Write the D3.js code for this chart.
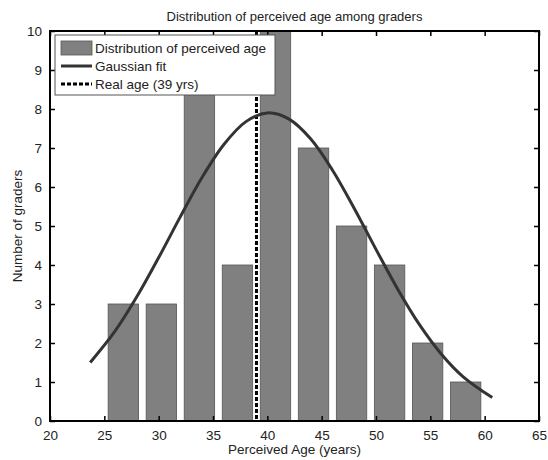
<!DOCTYPE html>
<html>
<head>
<meta charset="utf-8">
<script src="https://cdn.jsdelivr.net/npm/d3@7"></script>
<style>
body { margin: 0; background: #fff; }
text { font-family: "Liberation Sans", Arial, sans-serif; fill: #222; }
</style>
</head>
<body>
<div id="chart"></div>
<script>
// histogram bins (centres, years) and counts
var binCenters = [26.75, 30.25, 33.75, 37.25, 40.75, 44.25, 47.75, 51.25, 54.75, 58.25];
var counts = [3, 3, 9, 4, 10, 7, 5, 4, 2, 1];
var binWidth = 2.8;

// gaussian fit
var fitX = [23.7, 26, 28, 30, 32, 34, 36, 38, 40, 42, 44, 46, 48, 50, 52, 54, 56, 58, 60.7];
var fitY = [1.5, 2.31, 3.19, 4.19, 5.24, 6.25, 7.09, 7.67, 7.9, 7.74, 7.23, 6.43, 5.45, 4.40, 3.38, 2.47, 1.72, 1.14, 0.6];

var realAge = 39;
var xTicks = [20, 25, 30, 35, 40, 45, 50, 55, 60, 65];
var yTicks = [0, 1, 2, 3, 4, 5, 6, 7, 8, 9, 10];

var margin = {top: 31, right: 9, bottom: 39, left: 50},
    width = 548 - margin.left - margin.right,
    height = 460 - margin.top - margin.bottom;

var svg = d3.select("#chart").append("svg")
    .attr("width", 548)
    .attr("height", 460);

var g = svg.append("g")
    .attr("transform", "translate(" + margin.left + "," + margin.top + ")");

var x = d3.scaleLinear().domain([20, 65]).range([0, width]);
var y = d3.scaleLinear().domain([0, 10]).range([height, 0]);

svg.append("clipPath").attr("id", "plotclip")
    .append("rect").attr("width", width).attr("height", height);

var plot = g.append("g").attr("clip-path", "url(#plotclip)");

// bars
plot.selectAll(".bar")
    .data(binCenters)
    .enter().append("rect")
    .attr("x", function(d) { return x(d - binWidth / 2); })
    .attr("width", function(d) { return x(d + binWidth / 2) - x(d - binWidth / 2); })
    .attr("y", function(d, i) { return y(counts[i]); })
    .attr("height", function(d, i) { return height - y(counts[i]); })
    .attr("fill", "#808080")
    .attr("stroke", "#555")
    .attr("stroke-width", 0.8);

// real age line
plot.append("line")
    .attr("x1", x(realAge)).attr("x2", x(realAge))
    .attr("y1", 0).attr("y2", height)
    .attr("stroke", "#000")
    .attr("stroke-width", 3)
    .attr("stroke-dasharray", "4,2");

// fit curve
var line = d3.line()
    .x(function(d, i) { return x(fitX[i]); })
    .y(function(d) { return y(d); })
    .curve(d3.curveCatmullRom);

plot.append("path")
    .datum(fitY)
    .attr("d", line)
    .attr("fill", "none")
    .attr("stroke", "#333")
    .attr("stroke-width", 3);

// axes, matlab style: ticks inside, box all round
g.append("g")
    .attr("transform", "translate(0," + height + ")")
    .call(d3.axisBottom(x).tickValues(xTicks).tickSizeInner(-5).tickSizeOuter(0).tickPadding(9))
    .call(function(a) { a.select(".domain").remove(); });

g.append("g")
    .call(d3.axisTop(x).tickValues(xTicks).tickSizeInner(-5).tickSizeOuter(0).tickFormat(""))
    .call(function(a) { a.select(".domain").remove(); });

g.append("g")
    .call(d3.axisLeft(y).tickValues(yTicks).tickSizeInner(-5).tickSizeOuter(0).tickPadding(8))
    .call(function(a) { a.select(".domain").remove(); });

g.append("g")
    .attr("transform", "translate(" + width + ",0)")
    .call(d3.axisRight(y).tickValues(yTicks).tickSizeInner(-5).tickSizeOuter(0).tickFormat(""))
    .call(function(a) { a.select(".domain").remove(); });

g.selectAll(".tick line").attr("stroke", "#000").attr("stroke-width", 1.5);
g.selectAll(".tick text").style("font-size", "13.5px").attr("fill", "#222")
    .style("font-family", "'Liberation Sans', Arial, sans-serif");

g.append("rect")
    .attr("width", width).attr("height", height)
    .attr("fill", "none").attr("stroke", "#000").attr("stroke-width", 2);

// titles
svg.append("text")
    .attr("x", margin.left + width / 2).attr("y", 21)
    .attr("text-anchor", "middle").style("font-size", "13px")
    .text("Distribution of perceived age among graders");

svg.append("text")
    .attr("x", margin.left + width / 2).attr("y", 454)
    .attr("text-anchor", "middle").style("font-size", "13.5px")
    .text("Perceived Age (years)");

svg.append("text")
    .attr("transform", "translate(22," + (margin.top + height / 2) + ") rotate(-90)")
    .attr("text-anchor", "middle").style("font-size", "13.5px")
    .text("Number of graders");

// legend
var leg = g.append("g").attr("transform", "translate(5,4)");
leg.append("rect")
    .attr("width", 220).attr("height", 60)
    .attr("fill", "#fff").attr("stroke", "#555").attr("stroke-width", 1);

leg.append("rect")
    .attr("x", 6).attr("y", 6).attr("width", 31).attr("height", 14)
    .attr("fill", "#808080").attr("stroke", "#555").attr("stroke-width", 0.8);
leg.append("line")
    .attr("x1", 6).attr("x2", 37).attr("y1", 31).attr("y2", 31)
    .attr("stroke", "#333").attr("stroke-width", 3);
leg.append("line")
    .attr("x1", 6).attr("x2", 37).attr("y1", 49).attr("y2", 49)
    .attr("stroke", "#000").attr("stroke-width", 3).attr("stroke-dasharray", "4,2");

var labels = ["Distribution of perceived age", "Gaussian fit", "Real age (39 yrs)"];
leg.selectAll(".lab")
    .data(labels)
    .enter().append("text")
    .attr("x", 40)
    .attr("y", function(d, i) { return 18 + i * 18; })
    .style("font-size", "13.5px")
    .text(function(d) { return d; });
</script>
</body>
</html>
